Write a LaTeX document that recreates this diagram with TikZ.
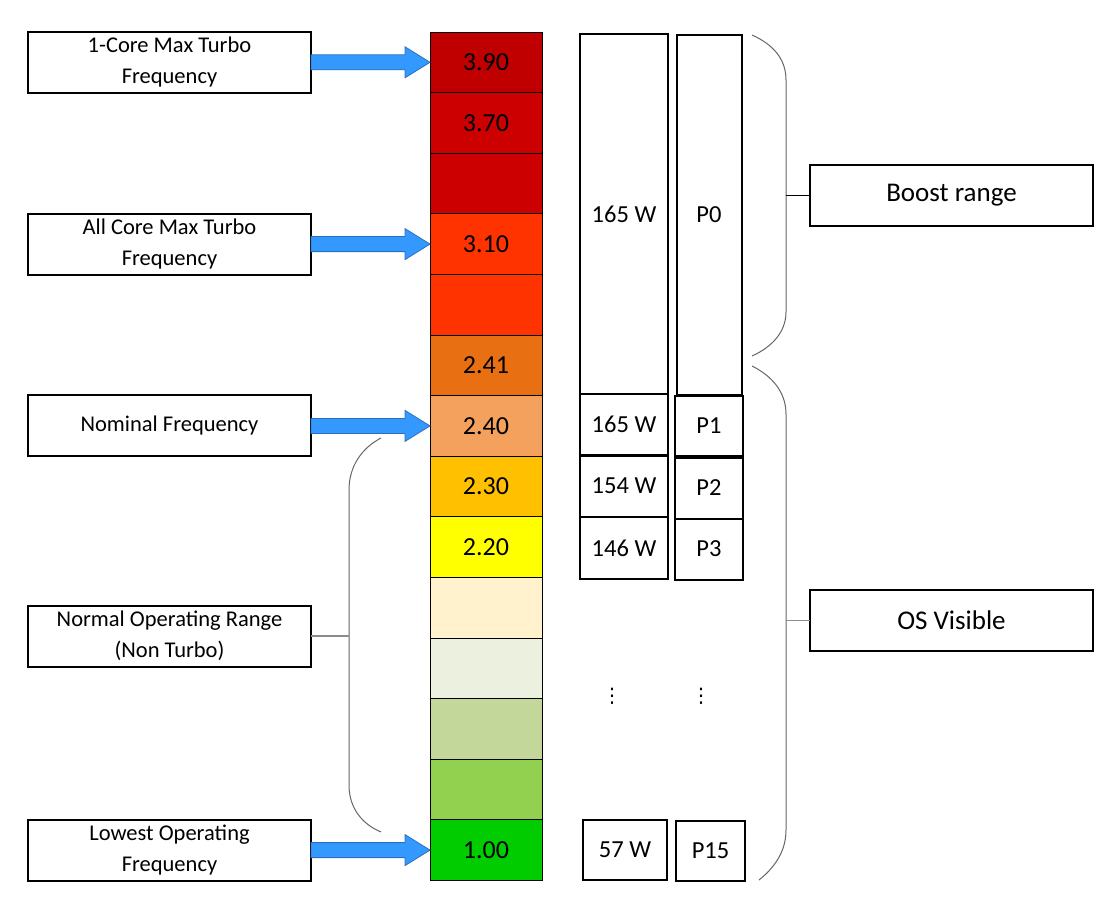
\documentclass[tikz,border=0pt]{standalone}
\usepackage{fontspec}
\setmainfont{Carlito}
\newfontfamily\dejavu{DejaVu Sans}
\usetikzlibrary{positioning}

\definecolor{cA}{RGB}{192,0,0}
\definecolor{cB}{RGB}{204,0,0}
\definecolor{cC}{RGB}{255,51,0}
\definecolor{cD}{RGB}{233,112,18}
\definecolor{cE}{RGB}{244,161,94}
\definecolor{cF}{RGB}{255,192,0}
\definecolor{cG}{RGB}{255,255,0}
\definecolor{cH}{RGB}{255,242,204}
\definecolor{cI}{RGB}{235,241,222}
\definecolor{cJ}{RGB}{196,215,155}
\definecolor{cK}{RGB}{146,208,80}
\definecolor{cL}{RGB}{0,204,0}
\definecolor{arwfill}{RGB}{51,153,255}
\definecolor{arwline}{RGB}{46,110,190}

\begin{document}
\begin{tikzpicture}[x=1pt, y=-1pt,
    lbox/.style={draw, line width=2pt, minimum width=283pt, minimum height=61pt,
        inner sep=0pt, outer sep=0pt, align=center, font=\fontsize{22.5}{31}\selectfont},
    rbox/.style={lbox, font=\fontsize{27}{31}\selectfont},
    cell/.style={draw, line width=0.8pt, minimum width=112pt, minimum height=60.6pt,
        inner sep=0pt, outer sep=0pt, font=\fontsize{26}{30}\selectfont},
    wbox/.style={draw, line width=2pt, inner sep=0pt, font=\fontsize{24.5}{28}\selectfont},
    barrow/.style={draw=arwline, line width=0.8pt, fill=arwfill},
    brace/.style={draw=black!60, line width=1pt},
    tick/.style={draw=black!45, line width=1.2pt}]
    \useasboundingbox (0,0) rectangle (1119,904);

    % frequency column
    \foreach \c/\v [count=\i] in {cA/3.90, cB/3.70, cB/{}, cC/3.10, cC/{}, cD/2.41, cE/2.40,
            cF/2.30, cG/2.20, cH/{}, cI/{}, cJ/{}, cK/{}, cL/1.00}
        \node[cell, fill=\c] (f\i) at (486, {32+60.6*(\i-0.5)}) {\v};

    % left labels
    \node[lbox, left=119pt of f1] (b1) {1-Core Max Turbo\\Frequency};
    \node[lbox, left=119pt of f4] (b2) {All Core Max Turbo\\Frequency};
    \node[lbox, left=119pt of f7] (b3) {Nominal Frequency};
    \node[lbox] (b4) at (169.5, 636) {Normal Operating Range\\(Non Turbo)};
    \node[lbox, left=119pt of f14] (b5) {Lowest Operating\\Frequency};

    \foreach \b/\f in {b1/f1, b2/f4, b3/f7, b5/f14}
        \draw[barrow] ([yshift=7.5pt]\b.east) -- ++(94,0) -- ++(0,-8) -- (\f.west)
            -- ++(-25,15.5) -- ++(0,-8) -- ([yshift=-7.5pt]\b.east) -- cycle;

    % non turbo brace
    \draw[brace] (381,438) .. controls (362,448) and (349,466) .. (349,490) -- (349,785)
        .. controls (349,808) and (362,824) .. (381,832);
    \coordinate (nb) at (349,636);
    \draw[tick] (b4.east) -- (nb);

    % power and p-states
    \node[wbox, minimum width=88pt, minimum height=360pt] (w0) at (624,214) {165 W};
    \node[wbox, minimum width=65pt, minimum height=360pt] (p0) at (709,215) {P0};
    \node[wbox, minimum width=88pt, minimum height=61pt] (w1) at (624,424.5) {165 W};
    \node[wbox, minimum width=68pt, minimum height=60pt] (p1) at (709,426) {P1};
    \node[wbox, minimum width=88pt, minimum height=61pt] (w2) at (624,486) {154 W};
    \node[wbox, minimum width=68pt, minimum height=61pt] (p2) at (709,488) {P2};
    \node[wbox, minimum width=88pt, minimum height=62pt] (w3) at (624,548) {146 W};
    \node[wbox, minimum width=68pt, minimum height=61pt] (p3) at (709,549) {P3};
    \node[font=\dejavu\fontsize{20}{24}\selectfont] (d1) at (612,696) {⋮};
    \node[font=\dejavu\fontsize{20}{24}\selectfont] (d2) at (701,696) {⋮};
    \node[wbox, minimum width=84pt, minimum height=60pt] (w15) at (625,850) {57 W};
    \node[wbox, minimum width=69pt, minimum height=60pt] (p15) at (710.5,851) {P15};

    % right braces
    \node[rbox] (boost) at (951.5,195.5) {Boost range};
    \node[rbox] (os) at (951.5,620.5) {OS Visible};
    \draw[brace] (752,35) .. controls (772,44) and (786,58) .. (786,80) -- (786,312)
        .. controls (786,332) and (772,347) .. (752,356);
    \draw[brace] (752,366) .. controls (772,376) and (786,392) .. (786,414) -- (786,830)
        .. controls (786,852) and (774,868) .. (759,880);
    \coordinate (bb) at (786,195.5);
    \coordinate (ob) at (786,620.5);
    \draw[tick, draw=black] (bb) -- (boost.west);
    \draw[tick] (ob) -- (os.west);
\end{tikzpicture}
\end{document}
